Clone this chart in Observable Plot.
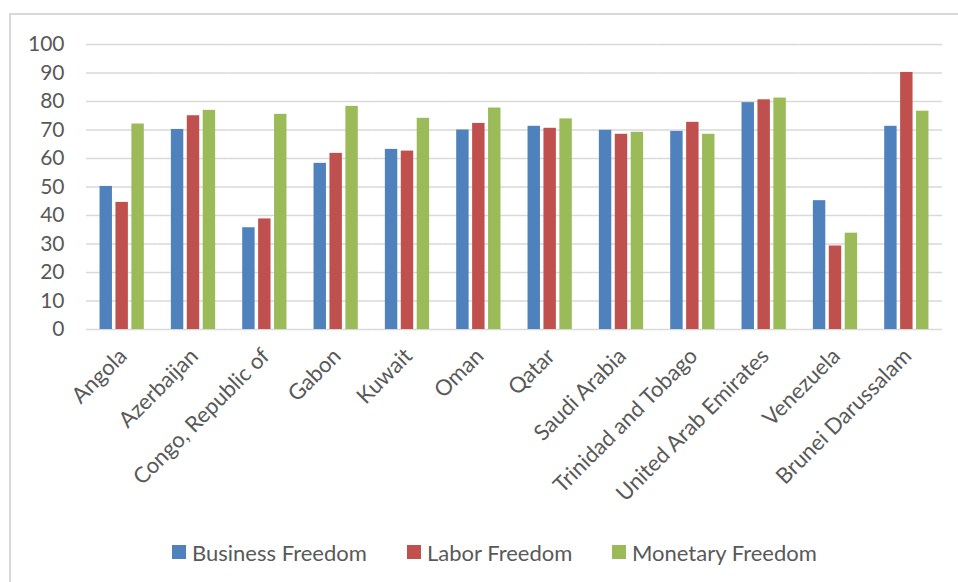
<!DOCTYPE html>
<html><head><meta charset="utf-8">
<script src="https://cdn.jsdelivr.net/npm/d3@7"></script>
<script src="https://cdn.jsdelivr.net/npm/@observablehq/plot@0.6"></script>
<style>
body{margin:0;background:#fff;overflow:hidden;font-family:Lato,sans-serif;}
#wrap{position:relative;width:958px;height:582px;overflow:hidden;}
#frame{position:absolute;left:9px;top:13px;width:1000px;height:1000px;border:2px solid #d9d9d9;box-sizing:border-box;}
#chart{position:absolute;left:0;top:0;}
#legend{position:absolute;top:538px;left:0;width:958px;height:28px;}
.item{position:absolute;top:0;display:flex;align-items:center;height:28px;font-size:22px;color:#595959;white-space:nowrap;}
.sw{width:14px;height:14px;margin-right:6px;flex:none;}
</style></head><body>
<div id="wrap"><div id="frame"></div><div id="chart"></div><div id="legend"></div></div>
<script>
const countries = ["Angola","Azerbaijan","Congo, Republic of","Gabon","Kuwait","Oman","Qatar","Saudi Arabia","Trinidad and Tobago","United Arab Emirates","Venezuela","Brunei Darussalam"];
const series = ["Business Freedom","Labor Freedom","Monetary Freedom"];
const businessFreedom = [50.2,70.2,35.7,58.3,63.2,70.0,71.3,69.9,69.5,79.6,45.2,71.3];
const laborFreedom    = [44.6,75.0,38.8,61.8,62.6,72.3,70.6,68.5,72.7,80.6,29.3,90.2];
const monetaryFreedom = [72.1,76.9,75.5,78.3,74.1,77.7,73.9,69.2,68.5,81.2,33.8,76.6];
const colors = ["#4F81BD","#C0504D","#9BBB59"];
const yTicks = [0,10,20,30,40,50,60,70,80,90,100];
const legendLeft = [172,407,612];

const values = [businessFreedom, laborFreedom, monetaryFreedom];
const data = countries.flatMap((c,i) => series.map((s,j) => ({country:c, series:s, value:values[j][i]})));

const chart = Plot.plot({
  width:958, height:536,
  marginLeft:86, marginRight:16, marginTop:44, marginBottom:207,
  style:{fontFamily:"Lato, sans-serif", fontSize:"22px", color:"#595959", background:"transparent", overflow:"visible"},
  fx:{domain:countries, paddingInner:0, paddingOuter:0, round:false, label:null},
  x:{domain:series, paddingInner:0.22, paddingOuter:0.85, round:false, axis:null},
  y:{domain:[0,100], label:null},
  color:{domain:series, range:colors},
  marks:[
    Plot.gridY(yTicks, {stroke:"#d9d9d9", strokeOpacity:1, strokeWidth:1.3}),
    Plot.barY(data, {fx:"country", x:"series", y:"value", fill:"series"}),
    Plot.axisY(yTicks, {tickSize:0, tickPadding:22, label:null, fontSize:21, fill:"#595959"}),
    Plot.axisFx({anchor:"bottom", tickRotate:-45, tickSize:0, tickPadding:23, dx:1, label:null, fontSize:22, fill:"#595959"})
  ]
});
document.getElementById("chart").appendChild(chart);

const legend = document.getElementById("legend");
series.forEach((s,i) => {
  const item = document.createElement("div");
  item.className = "item";
  item.style.left = legendLeft[i] + "px";
  const sw = document.createElement("span");
  sw.className = "sw";
  sw.style.background = colors[i];
  const t = document.createElement("span");
  t.textContent = s;
  item.appendChild(sw); item.appendChild(t);
  legend.appendChild(item);
});
</script>
</body></html>
